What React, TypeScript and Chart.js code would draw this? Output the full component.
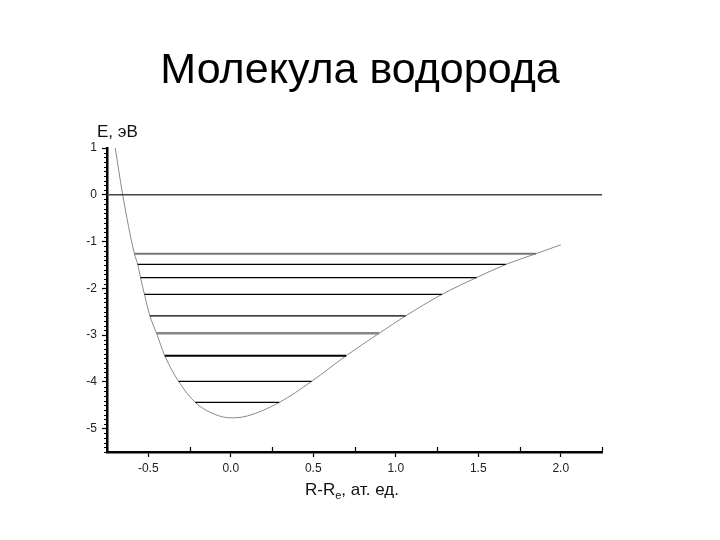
import { useEffect, useRef } from 'react';
import { Chart, registerables } from 'chart.js';

Chart.register(...registerables);

// Potential curve of H2 molecule: R - Re (at. units) vs E (eV)
const curveR = [-0.70, -0.655, -0.584, -0.564, -0.547, -0.523, -0.49, -0.45, -0.40, -0.316, -0.215, -0.10, 0.0, 0.10, 0.294, 0.49, 0.70, 0.90, 1.06, 1.28, 1.49, 1.667, 1.85, 2.0];
const curveE = [1.0, 0.0, -1.26, -1.49, -1.77, -2.13, -2.59, -2.96, -3.44, -3.99, -4.44, -4.69, -4.77, -4.73, -4.44, -3.99, -3.44, -2.96, -2.59, -2.13, -1.77, -1.49, -1.26, -1.07];

// Vibrational levels
const levelE = [-1.26, -1.49, -1.77, -2.13, -2.59, -2.96, -3.44, -3.99, -4.44];
const levelLeft = [-0.584, -0.564, -0.547, -0.523, -0.49, -0.45, -0.40, -0.316, -0.215];
const levelRight = [1.85, 1.667, 1.49, 1.28, 1.06, 0.90, 0.70, 0.49, 0.294];

// Dissociation limit
const zeroLineR = [-0.75, 2.25];
const zeroLineE = [0, 0];

const xMin = -0.75;
const xMax = 2.25;
const yMin = -5.5;
const yMax = 1;

const titleText = 'Молекула водорода';
const yAxisTitle = 'E, эВ';
const xAxisTitleParts = ['R-R', 'e', ', ат. ед.'];

const levelColors = ['#777', '#000', '#000', '#000', '#000', '#888', '#000', '#000', '#000'];
const levelWidths = [2, 1.2, 1.2, 1.2, 1.2, 2.5, 2, 1.2, 1.2];

const FONT = '"Liberation Sans", Arial, sans-serif';

export default function App() {
  const ref = useRef<HTMLCanvasElement | null>(null);

  useEffect(() => {
    const canvas = ref.current;
    if (!canvas) return;

    const datasets: any[] = [];
    datasets.push({
      data: zeroLineR.map((r, i) => ({ x: r, y: zeroLineE[i] })),
      borderColor: '#444',
      borderWidth: 1.6,
      pointRadius: 0,
    });
    levelE.forEach((e, i) => {
      datasets.push({
        data: [
          { x: levelLeft[i], y: e },
          { x: levelRight[i], y: e },
        ],
        borderColor: levelColors[i],
        borderWidth: levelWidths[i],
        pointRadius: 0,
      });
    });
    datasets.push({
      data: curveR.map((r, i) => ({ x: r, y: curveE[i] })),
      borderColor: '#8a8a8a',
      borderWidth: 1,
      pointRadius: 0,
      cubicInterpolationMode: 'monotone',
    });

    const isMajor = (v: number, step: number) => Math.abs(v / step - Math.round(v / step)) < 1e-6;

    const decor = {
      id: 'decor',
      afterDraw(chart: any) {
        const ctx = chart.ctx;
        const xs = chart.scales.x;
        const ys = chart.scales.y;
        const area = chart.chartArea;
        ctx.save();
        ctx.fillStyle = '#000';
        ctx.textAlign = 'center';
        ctx.textBaseline = 'alphabetic';
        ctx.font = `43px ${FONT}`;
        ctx.fillText(titleText, 360, 83);

        ctx.textAlign = 'left';
        ctx.font = `17px ${FONT}`;
        ctx.fillStyle = '#111';
        ctx.fillText(yAxisTitle, 97, 137);

        let x = 305;
        const base = 495;
        ctx.fillText(xAxisTitleParts[0], x, base);
        x += ctx.measureText(xAxisTitleParts[0]).width;
        ctx.font = `11px ${FONT}`;
        ctx.fillText(xAxisTitleParts[1], x, base + 4);
        x += ctx.measureText(xAxisTitleParts[1]).width;
        ctx.font = `17px ${FONT}`;
        ctx.fillText(xAxisTitleParts[2], x, base);

        // minor ticks
        ctx.strokeStyle = '#000';
        ctx.lineWidth = 1.2;
        ctx.beginPath();
        for (let v = xMin; v <= xMax + 1e-9; v += 0.25) {
          if (isMajor(v, 0.5)) continue;
          const px = Math.round(xs.getPixelForValue(v)) + 0.5;
          ctx.moveTo(px, area.bottom);
          ctx.lineTo(px, area.bottom - 5);
        }
        for (let i = 0; i <= 65; i++) {
          const v = yMin + i * 0.1;
          if (isMajor(v, 1)) continue;
          const py = Math.round(ys.getPixelForValue(v)) + 0.5;
          ctx.moveTo(area.left, py);
          ctx.lineTo(area.left - 3, py);
        }
        ctx.stroke();
        ctx.restore();
      },
    };

    const chart = new Chart(canvas, {
      type: 'line',
      data: { datasets },
      plugins: [decor],
      options: {
        animation: false,
        responsive: false,
        maintainAspectRatio: false,
        layout: { padding: { top: 148, right: 118, left: 0, bottom: 0 } },
        plugins: {
          legend: { display: false },
          tooltip: { enabled: false },
          title: { display: false },
        },
        scales: {
          x: {
            type: 'linear',
            min: xMin,
            max: xMax,
            afterFit: (s: any) => {
              s.height = 88;
            },
            border: { color: '#000', width: 2.5 },
            grid: {
              drawOnChartArea: false,
              drawTicks: true,
              tickLength: 5,
              tickWidth: 1.2,
              tickColor: (c: any) => (isMajor(c.tick.value, 0.5) ? '#000' : 'rgba(0,0,0,0)'),
            },
            ticks: {
              stepSize: 0.25,
              autoSkip: false,
              maxRotation: 0,
              padding: 4,
              color: '#222',
              font: { family: FONT, size: 12 },
              callback: (v: any) => (isMajor(Number(v), 0.5) ? Number(v).toFixed(1) : ''),
            },
          },
          y: {
            type: 'linear',
            min: yMin,
            max: yMax,
            afterFit: (s: any) => {
              s.width = 107;
            },
            border: { color: '#000', width: 2.5 },
            grid: {
              drawOnChartArea: false,
              drawTicks: true,
              tickLength: 5,
              tickWidth: 1.2,
              tickColor: (c: any) => (isMajor(c.tick.value, 1) ? '#000' : 'rgba(0,0,0,0)'),
            },
            ticks: {
              stepSize: 0.5,
              autoSkip: false,
              padding: 5,
              color: '#222',
              font: { family: FONT, size: 12 },
              callback: (v: any) => (isMajor(Number(v), 1) ? String(Math.round(Number(v))) : ''),
            },
          },
        },
      },
    });
    return () => chart.destroy();
  }, []);

  return (
    <div style={{ position: 'fixed', left: 0, top: 0, width: 720, height: 540, background: '#fff' }}>
      <canvas ref={ref} width={720} height={540} style={{ width: 720, height: 540, display: 'block' }} />
    </div>
  );
}
